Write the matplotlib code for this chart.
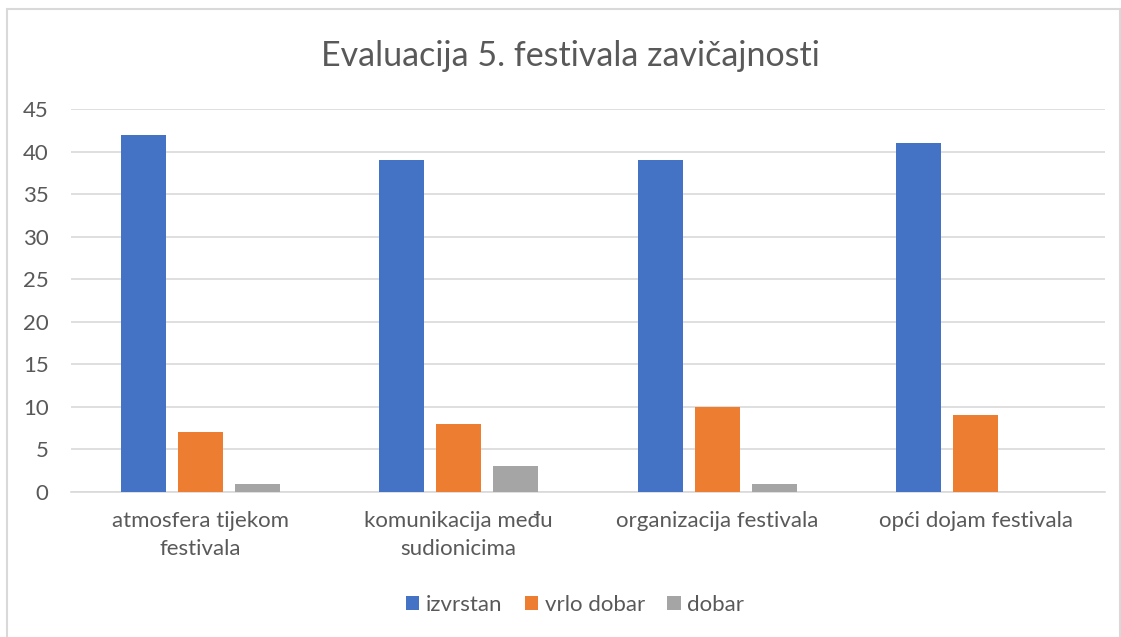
import numpy as np
import matplotlib.pyplot as plt
from matplotlib.patches import Rectangle

categories = ['atmosfera tijekom\nfestivala', 'komunikacija među\nsudionicima',
              'organizacija festivala', 'opći dojam festivala']
izvrstan = [42, 39, 39, 41]
vrlo_dobar = [7, 8, 10, 9]
dobar = [1, 3, 1, 0]
series = [('izvrstan', izvrstan, '#4472c4'),
          ('vrlo dobar', vrlo_dobar, '#ed7d31'),
          ('dobar', dobar, '#a5a5a5')]

plt.rcParams['font.family'] = ['Lato', 'DejaVu Sans']
txt = '#595959'

fig = plt.figure(figsize=(11.21, 6.37), dpi=100)
ax = fig.add_axes([0.0633, 0.2276, 0.9224, 0.6013])

x = np.arange(len(categories))
w = 0.174
step = 0.22
for i, (name, vals, col) in enumerate(series):
    ax.bar(x + (i - 1) * step, vals, w, color=col, label=name, zorder=3)

ax.set_xlim(-0.5, len(categories) - 0.5)
ax.set_ylim(0, 45)
ax.set_yticks(range(0, 46, 5))
ax.yaxis.grid(True, color='#d9d9d9', linewidth=1.2, zorder=0)
for s in ['top', 'right', 'left']:
    ax.spines[s].set_visible(False)
ax.spines['bottom'].set_color('#d9d9d9')
ax.spines['bottom'].set_linewidth(1.2)
ax.tick_params(axis='both', length=0, labelsize=16, colors=txt)
ax.tick_params(axis='y', pad=16)
ax.tick_params(axis='x', pad=14)
ax.set_xticks(x)
ax.set_xticklabels(categories, linespacing=1.5)

fig.text(0.509, 0.912, 'Evaluacija 5. festivala zavičajnosti', ha='center',
         va='center', fontsize=24.5, color=txt)

ax.legend(loc='center', bbox_to_anchor=(0.513, 0.05), bbox_transform=fig.transFigure,
          ncol=3, frameon=False, fontsize=16, labelcolor=txt,
          handlelength=0.6, handleheight=0.6, handletextpad=0.3, columnspacing=1.0)

fig.patches.append(Rectangle((6.5 / 1121, -0.05), 1113.5 / 1121, 1 - 9 / 637 + 0.05,
                             transform=fig.transFigure, fill=False,
                             edgecolor='#d9d9d9', linewidth=1.5))

fig.savefig('out.png', dpi=100)
